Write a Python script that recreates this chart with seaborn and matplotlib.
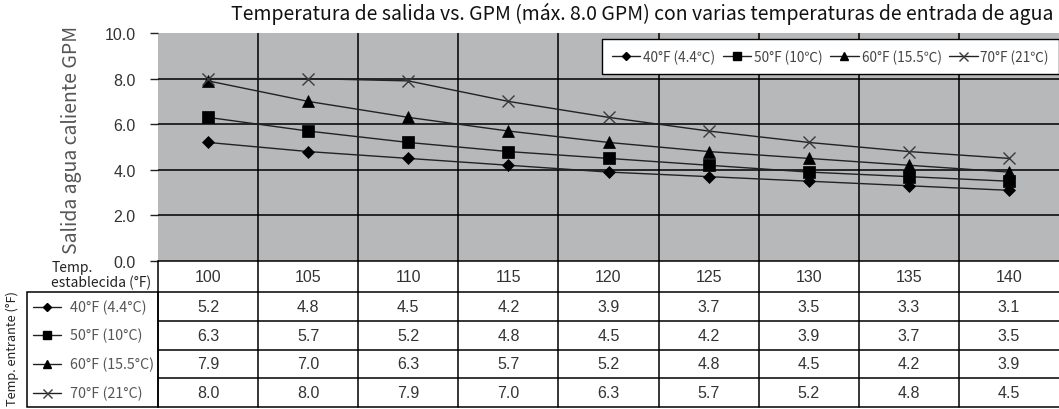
import numpy as np
import pandas as pd
import matplotlib
matplotlib.use("Agg")
import matplotlib.pyplot as plt
import seaborn as sns
from matplotlib.lines import Line2D
from matplotlib.patches import Rectangle

# ---- data ----
set_temps = [100, 105, 110, 115, 120, 125, 130, 135, 140]
legend_labels = ["40°F (4.4℃)", "50°F (10℃)", "60°F (15.5℃)", "70°F (21℃)"]
row_labels = ["40°F (4.4°C)", "50°F (10°C)", "60°F (15.5°C)", "70°F (21°C)"]
gpm_40f = [5.2, 4.8, 4.5, 4.2, 3.9, 3.7, 3.5, 3.3, 3.1]
gpm_50f = [6.3, 5.7, 5.2, 4.8, 4.5, 4.2, 3.9, 3.7, 3.5]
gpm_60f = [7.9, 7.0, 6.3, 5.7, 5.2, 4.8, 4.5, 4.2, 3.9]
gpm_70f = [8.0, 8.0, 7.9, 7.0, 6.3, 5.7, 5.2, 4.8, 4.5]
y_ticks = [0, 2, 4, 6, 8, 10]

series = [gpm_40f, gpm_50f, gpm_60f, gpm_70f]
markers = ["D", "s", "^", "x"]
msizes = [6, 8, 8.5, 9]

sns.set_theme(style="white")
CJK = ["Noto Sans CJK KR", "DejaVu Sans"]
ARIAL = ["Liberation Sans", "DejaVu Sans"]
plt.rcParams["font.family"] = CJK

W, H = 1059, 410
fig = plt.figure(figsize=(W / 100, H / 100), dpi=100)
fig.patch.set_facecolor("white")

# ---- chart area ----
x0, x1 = 158, 1059
ytop, ybot = 34, 262
ax = fig.add_axes([x0 / W, 1 - ybot / H, (x1 - x0) / W, (ybot - ytop) / H])
ax.set_facecolor("#b6b8b9")

rows = []
for lab, vals in zip(legend_labels, series):
    for i, v in enumerate(vals):
        rows.append({"serie": lab, "pos": i, "gpm": v})
df = pd.DataFrame(rows)

# grid: horizontal lines at the inner y ticks, vertical lines between columns
for t in y_ticks[1:-1]:
    ax.axhline(t, color="black", lw=1.1, zorder=1)
for b in np.arange(0.5, 8, 1):
    ax.axvline(b, color="black", lw=1.1, zorder=1)

handles = []
for lab, m, ms in zip(legend_labels, markers, msizes):
    sub = df[df["serie"] == lab]
    col = "#3a3a3a" if m == "x" else "black"
    sns.lineplot(data=sub, x="pos", y="gpm", ax=ax, color="#222222", lw=1.0,
                 marker=m, markersize=ms, markerfacecolor=col,
                 markeredgecolor=col, markeredgewidth=1.0 if m == "x" else 0.5,
                 legend=False, zorder=3)
    handles.append(Line2D([], [], color="#222222", lw=1.0, marker=m,
                          markersize=ms * 0.72, markerfacecolor=col,
                          markeredgecolor=col, markeredgewidth=1.0))

ax.set_xlim(-0.5, 8.5)
ax.set_ylim(0, 10)
ax.set_xticks([])
ax.set_yticks(y_ticks)
ax.set_yticklabels([f"{t:.1f}" for t in y_ticks], fontsize=11.5,
                   color="#333333", family=ARIAL)
ax.tick_params(axis="y", left=True, length=6, width=1.0, color="#222222", pad=10)
ax.set_xlabel("")
ax.set_ylabel("")
for s in ax.spines.values():
    s.set_visible(False)

leg = ax.legend(handles, legend_labels, loc="upper right",
                bbox_to_anchor=(1.0, (ybot - 40) / (ybot - ytop)),
                borderaxespad=0, ncol=4, frameon=True, fancybox=False,
                framealpha=1, edgecolor="black", fontsize=9.8,
                handlelength=2.1, handletextpad=0.2, columnspacing=0.55,
                borderpad=0.75)
leg.get_frame().set_linewidth(1.0)
for t in leg.get_texts():
    t.set_color("#444444")

fig.text(642 / W, 1 - 14 / H,
         "Temperatura de salida vs. GPM (máx. 8.0 GPM) con varias temperaturas de entrada de agua",
         ha="center", va="center", fontsize=14, color="#111111")
fig.text(71 / W, 1 - 140 / H, "Salida agua caliente GPM", rotation=90,
         ha="center", va="center", fontsize=14, color="#555555")

# ---- value table ----
tbot = 408
tax = fig.add_axes([x0 / W, 1 - tbot / H, (x1 - x0) / W, (tbot - ybot) / H])
tax.set_xlim(-0.5, 8.5)
tax.set_ylim(tbot, ybot)
tax.axis("off")

px = (x1 - x0) / 9.0  # pixels per column


def xd(p):
    return -0.5 + (p - x0) / px


row_edges = [262, 293, 322, 350.5, 379, 408]
for yy in row_edges:
    tax.plot([-0.5, 8.5], [yy, yy], color="black", lw=1.1, clip_on=False)
for b in [-0.5] + list(np.arange(0.5, 8, 1)):
    tax.plot([b, b], [262, 408], color="black", lw=1.1, clip_on=False)

hdr_y = (row_edges[0] + row_edges[1]) / 2
for i, t in enumerate(set_temps):
    tax.text(i, hdr_y, str(t), ha="center", va="center", fontsize=11.5,
             color="#333333", family=ARIAL)
for r, vals in enumerate(series):
    cy = (row_edges[r + 1] + row_edges[r + 2]) / 2
    for i, v in enumerate(vals):
        tax.text(i, cy, f"{v:.1f}", ha="center", va="center", fontsize=11.5,
                 color="#333333", family=ARIAL)

# header of the first column, two lines
tax.text(xd(52), 268, "Temp.", ha="left", va="center",
         fontsize=10, color="#222222")
tax.text(xd(51), 282.5, "establecida (°F)", ha="left", va="center",
         fontsize=10, color="#222222")

# series key box on the left of the table
tax.add_patch(Rectangle((xd(27), 293), xd(158) - xd(27), 408 - 293,
                        fill=False, edgecolor="black", lw=1.1, clip_on=False))
for r, (lab, m, ms) in enumerate(zip(row_labels, markers, msizes)):
    cy = (row_edges[r + 1] + row_edges[r + 2]) / 2
    col = "#3a3a3a" if m == "x" else "black"
    tax.add_line(Line2D([xd(33), xd(61)], [cy, cy], color="#222222", lw=1.0,
                        clip_on=False))
    tax.add_line(Line2D([xd(47)], [cy], marker=m, markersize=ms * 0.72,
                        markerfacecolor=col, markeredgecolor=col,
                        markeredgewidth=1.0, clip_on=False))
    tax.text(xd(70), cy, lab, ha="left", va="center", fontsize=10.3,
             color="#555555")

fig.text(12 / W, 1 - 349 / H, "Temp. entrante (°F)", rotation=90,
         ha="center", va="center", fontsize=9.2, color="#222222")

fig.savefig("out.png", dpi=100, facecolor="white")
